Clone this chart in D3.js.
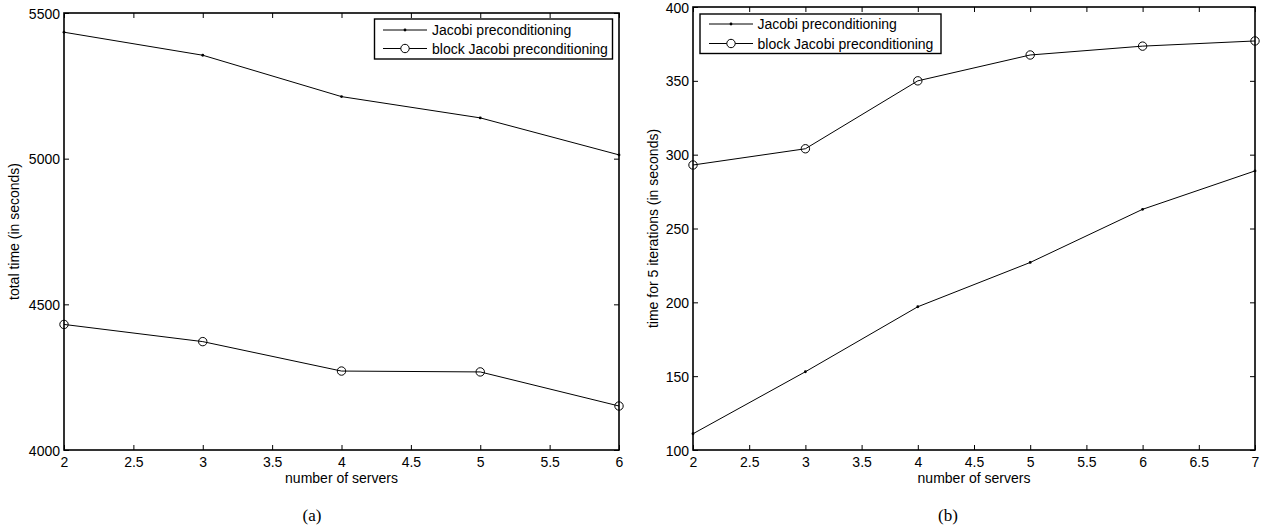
<!DOCTYPE html>
<html>
<head>
<meta charset="utf-8">
<script src="https://cdn.jsdelivr.net/npm/d3@7"></script>
<style>
  html, body { margin: 0; padding: 0; background: #fff; }
  svg { display: block; }
  text { font-family: "Liberation Sans", Arial, Helvetica, sans-serif; fill: #000; }
</style>
</head>
<body>
<svg id="chart" width="1263" height="532"></svg>
<script>
// ---- data ----
const serversA = [2, 3, 4, 5, 6];
const jacobiA = [5434, 5355, 5213, 5140, 5013];
const blockJacobiA = [4431, 4372, 4271, 4268, 4151];
const xTicksA = [2, 2.5, 3, 3.5, 4, 4.5, 5, 5.5, 6];
const yTicksA = [4000, 4500, 5000, 5500];

const serversB = [2, 3, 4, 5, 6, 7];
const jacobiB = [111, 153, 197, 227, 263, 289];
const blockJacobiB = [293, 304, 350, 367.5, 373.5, 377];
const xTicksB = [2, 2.5, 3, 3.5, 4, 4.5, 5, 5.5, 6, 6.5, 7];
const yTicksB = [100, 150, 200, 250, 300, 350, 400];

const seriesNames = ["Jacobi preconditioning", "block Jacobi preconditioning"];
const xLabel = "number of servers";
const yLabelA = "total time (in seconds)";
const yLabelB = "time for 5 iterations (in seconds)";
const captions = ["(a)", "(b)"];

const svg = d3.select("#chart");

function panel(cfg) {
  const g = svg.append("g");
  const x = d3.scaleLinear().domain(cfg.xDomain).range([cfg.left, cfg.right]);
  const y = d3.scaleLinear().domain(cfg.yDomain).range([cfg.bottom, cfg.top]);
  const tk = 5;

  // inward ticks on all four sides
  const axB = g.append("g").attr("transform", `translate(0,${cfg.bottom})`)
    .call(d3.axisBottom(x).tickValues(cfg.xTicks).tickSize(-tk).tickPadding(tk + 4).tickFormat(d3.format("")));
  const axT = g.append("g").attr("transform", `translate(0,${cfg.top})`)
    .call(d3.axisTop(x).tickValues(cfg.xTicks).tickSize(-tk).tickFormat(""));
  const axL = g.append("g").attr("transform", `translate(${cfg.left},0)`)
    .call(d3.axisLeft(y).tickValues(cfg.yTicks).tickSize(-tk).tickPadding(tk + 4).tickFormat(d3.format("")));
  const axR = g.append("g").attr("transform", `translate(${cfg.right},0)`)
    .call(d3.axisRight(y).tickValues(cfg.yTicks).tickSize(-tk).tickFormat(""));
  [axB, axT, axL, axR].forEach(a => {
    a.select(".domain").remove();
    a.selectAll(".tick line").attr("stroke", "#000").attr("stroke-width", 1);
    a.selectAll("text").attr("font-size", 14).attr("fill", "#000")
      .style("font-family", '"Liberation Sans", Arial, Helvetica, sans-serif');
  });
  axB.selectAll("text").attr("dy", "0.71em").attr("y", tk + 2);
  axL.selectAll("text").attr("x", -4).attr("dy", "0.36em");

  // frame
  g.append("rect")
    .attr("x", cfg.left).attr("y", cfg.top)
    .attr("width", cfg.right - cfg.left).attr("height", cfg.bottom - cfg.top)
    .attr("fill", "none").attr("stroke", "#000").attr("stroke-width", 1.6);

  const line = d3.line().x(d => x(d[0])).y(d => y(d[1]));
  const dJ = cfg.xs.map((v, i) => [v, cfg.j[i]]);
  const dB = cfg.xs.map((v, i) => [v, cfg.b[i]]);

  g.append("path").datum(dJ).attr("d", line).attr("fill", "none").attr("stroke", "#000").attr("stroke-width", 1);
  g.selectAll(".pj").data(dJ).join("circle")
    .attr("cx", d => x(d[0])).attr("cy", d => y(d[1])).attr("r", 1.4).attr("fill", "#000");

  g.append("path").datum(dB).attr("d", line).attr("fill", "none").attr("stroke", "#000").attr("stroke-width", 1);
  g.selectAll(".pb").data(dB).join("circle")
    .attr("cx", d => x(d[0])).attr("cy", d => y(d[1])).attr("r", 4.2)
    .attr("fill", "none").attr("stroke", "#000").attr("stroke-width", 1);

  // axis labels
  g.append("text").attr("x", (cfg.left + cfg.right) / 2).attr("y", cfg.bottom + 33)
    .attr("text-anchor", "middle").attr("font-size", 14).text(xLabel);
  g.append("text")
    .attr("transform", `translate(${cfg.yLabelX},${(cfg.top + cfg.bottom) / 2}) rotate(-90)`)
    .attr("text-anchor", "middle").attr("dy", "0.35em").attr("font-size", 14).text(cfg.yLabel);

  // legend
  const L = cfg.legend;
  g.append("rect").attr("x", L.x0).attr("y", L.y0).attr("width", L.x1 - L.x0).attr("height", L.y1 - L.y0)
    .attr("fill", "#fff").attr("stroke", "#000").attr("stroke-width", 1.4);
  seriesNames.forEach((name, i) => {
    const ry = L.rows[i];
    g.append("line").attr("x1", L.lx0).attr("x2", L.lx1).attr("y1", ry).attr("y2", ry)
      .attr("stroke", "#000").attr("stroke-width", 1);
    const mx = (L.lx0 + L.lx1) / 2;
    if (i === 0) {
      g.append("circle").attr("cx", mx).attr("cy", ry).attr("r", 1.4).attr("fill", "#000");
    } else {
      g.append("circle").attr("cx", mx).attr("cy", ry).attr("r", 4.2)
        .attr("fill", "#fff").attr("stroke", "#000").attr("stroke-width", 1);
    }
    g.append("text").attr("x", L.tx).attr("y", ry).attr("dy", "0.36em")
      .attr("font-size", 14).text(name);
  });

  // caption
  svg.append("text").attr("x", cfg.capX).attr("y", 521).attr("text-anchor", "middle")
    .attr("font-size", 17).style("font-family", '"Liberation Serif", "Times New Roman", serif')
    .text(cfg.caption);
}

panel({
  left: 64, right: 619, top: 13, bottom: 450,
  xDomain: [2, 6], yDomain: [4000, 5500],
  xTicks: xTicksA, yTicks: yTicksA,
  xs: serversA, j: jacobiA, b: blockJacobiA,
  yLabel: yLabelA, yLabelX: 14,
  legend: { x0: 374.5, x1: 612.5, y0: 19, y1: 59, lx0: 383, lx1: 427, tx: 432, rows: [30, 48.5] },
  caption: captions[0], capX: 312
});

panel({
  left: 693, right: 1255, top: 7, bottom: 450,
  xDomain: [2, 7], yDomain: [100, 400],
  xTicks: xTicksB, yTicks: yTicksB,
  xs: serversB, j: jacobiB, b: blockJacobiB,
  yLabel: yLabelB, yLabelX: 653,
  legend: { x0: 700, x1: 941, y0: 14, y1: 53.5, lx0: 709, lx1: 753, tx: 757.5, rows: [24, 43.5] },
  caption: captions[1], capX: 948
});
</script>
</body>
</html>
